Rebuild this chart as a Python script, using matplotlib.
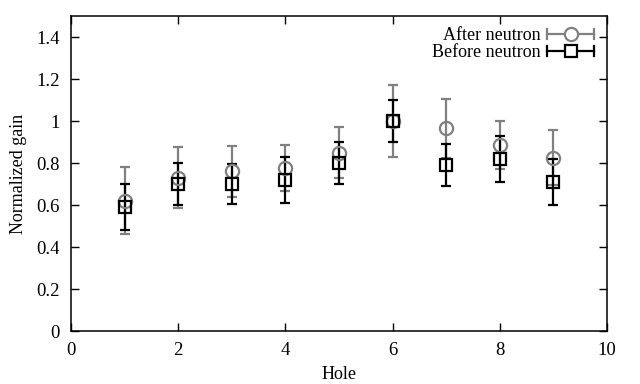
import matplotlib
matplotlib.use("Agg")
import matplotlib.pyplot as plt
from matplotlib.legend_handler import HandlerBase
from matplotlib.lines import Line2D

holes = [1, 2, 3, 4, 5, 6, 7, 8, 9]
after_gain = [0.62, 0.73, 0.76, 0.775, 0.85, 1.0, 0.965, 0.885, 0.825]
after_err = [0.16, 0.145, 0.12, 0.11, 0.12, 0.17, 0.14, 0.115, 0.13]
before_gain = [0.59, 0.70, 0.70, 0.72, 0.80, 1.0, 0.79, 0.82, 0.71]
before_err = [0.11, 0.10, 0.095, 0.11, 0.10, 0.10, 0.10, 0.11, 0.11]

plt.rcParams['font.family'] = ['Liberation Serif', 'DejaVu Serif']
plt.rcParams['font.size'] = 13

fig = plt.figure(figsize=(6.4, 3.84), dpi=100)
ax = fig.add_axes([71/640, 1-331/384, (607-71)/640, (331-16)/384])

gray = '#808080'
ax.errorbar(holes, after_gain, yerr=after_err, fmt='o', color=gray, mfc='none',
            mec=gray, ms=9.5, mew=1.6, elinewidth=1.6, capsize=3.5, capthick=1.6)
ax.errorbar(holes, before_gain, yerr=before_err, fmt='s', color='black', mfc='none',
            mec='black', ms=9, mew=1.6, elinewidth=1.6, capsize=3.5, capthick=1.6)

ax.set_xlim(0, 10)
ax.set_ylim(0, 1.5)
ax.set_xticks([0, 2, 4, 6, 8, 10])
ax.set_yticks([0, 0.2, 0.4, 0.6, 0.8, 1.0, 1.2, 1.4])
ax.set_yticklabels(['0', '0.2', '0.4', '0.6', '0.8', '1', '1.2', '1.4'])
ax.tick_params(direction='in', top=True, right=True, length=6, width=1, labelsize=13.5, pad=8)
for s in ax.spines.values():
    s.set_linewidth(1.1)
ax.set_xlabel('Hole', fontsize=13, labelpad=5)
ax.set_ylabel('Normalized gain', fontsize=13, labelpad=7)


class ErrHandler(HandlerBase):
    def __init__(self, marker, color, ms):
        super().__init__()
        self.marker = marker
        self.color = color
        self.ms = ms

    def create_artists(self, legend, orig_handle, xdescent, ydescent, width, height, fontsize, trans):
        y = height / 2 - ydescent
        x0, x1 = -xdescent, -xdescent + width
        arts = [Line2D([x0, x1], [y, y], color=self.color, lw=1.6, transform=trans)]
        for xx in (x0, x1):
            arts.append(Line2D([xx, xx], [y - 3.5, y + 3.5], color=self.color, lw=1.6, transform=trans))
        arts.append(Line2D([(x0 + x1) / 2], [y], marker=self.marker, color=self.color, mfc='white',
                           mec=self.color, ms=self.ms, mew=1.6, transform=trans))
        return arts


h1 = Line2D([], [])
h2 = Line2D([], [])
leg = ax.legend([h1, h2], ['After neutron', 'Before neutron'],
                handler_map={h1: ErrHandler('o', gray, 9.5), h2: ErrHandler('s', 'black', 9)},
                loc='upper right', frameon=False, markerfirst=False, fontsize=13,
                handlelength=2.6, handletextpad=0.4, labelspacing=0.0,
                borderaxespad=0.3, bbox_to_anchor=(1.0, 1.005))
for t in leg.get_texts():
    t.set_ha('right')

fig.savefig('out.png', dpi=100)
